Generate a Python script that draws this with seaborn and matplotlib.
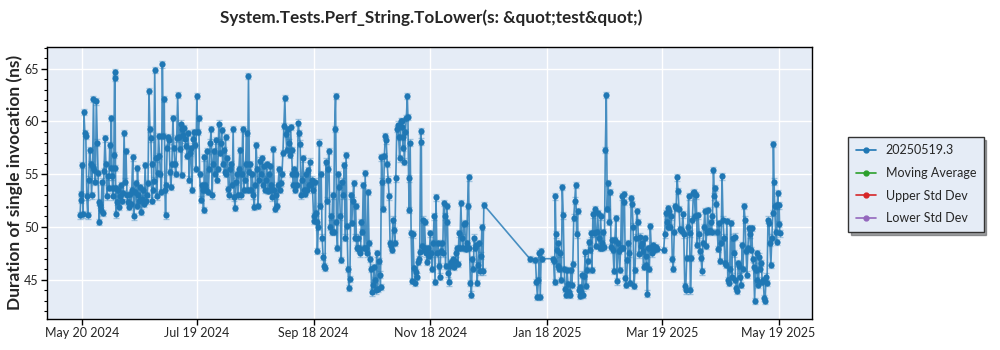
import matplotlib
matplotlib.use("Agg")
import matplotlib.pyplot as plt
import matplotlib.dates as mdates
from matplotlib.lines import Line2D
from matplotlib.ticker import MultipleLocator, FixedLocator, FixedFormatter
import pandas as pd
import seaborn as sns

# ---------------- data ----------------
title = "System.Tests.Perf_String.ToLower(s: &quot;test&quot;)"
y_label = "Duration of single invocation (ns)"
legend_labels = ["20250519.3", "Moving Average", "Upper Std Dev", "Lower Std Dev"]
legend_colors = ["#1f77b4", "#2ca02c", "#d62728", "#9467bd"]
start_date = "2024-05-20"
tick_dates = ["2024-05-20", "2024-07-19", "2024-09-18", "2024-11-18",
              "2025-01-18", "2025-03-19", "2025-05-19"]
tick_labels = ["May 20 2024", "Jul 19 2024", "Sep 18 2024", "Nov 18 2024",
               "Jan 18 2025", "Mar 19 2025", "May 19 2025"]
y_ticks = [45, 50, 55, 60, 65]

# day offsets from start_date and the runs measured that day (ns)
run_day = [-1, 0, 1, 2, 3, 4, 5, 6, 7, 8, 9, 10, 11, 12, 13, 14, 15, 16, 17, 18, 19,
           20, 21, 22, 23, 24, 25, 26, 27, 28, 29, 30, 31, 32, 33, 34, 35, 36, 37, 38, 39,
           40, 41, 42, 43, 44, 45, 46, 47, 48, 49, 50, 51, 52, 53, 54, 55, 56, 57, 58, 59,
           60, 61, 62, 63, 64, 65, 66, 67, 68, 69, 70, 71, 72, 73, 74, 75, 76, 77, 78, 79,
           80, 81, 82, 83, 84, 85, 86, 87, 88, 89, 90, 91, 92, 93, 94, 95, 96, 97, 98, 99,
           100, 101, 102, 103, 104, 105, 106, 107, 108, 109, 110, 111, 112, 113, 114, 115,
           116, 117, 118, 119, 120, 121, 122, 123, 124, 125, 126, 127, 128, 129, 130, 131,
           132, 133, 134, 135, 136, 137, 138, 139, 140, 141, 142, 143, 144, 145, 146, 147,
           148, 149, 150, 151, 152, 153, 154, 155, 156, 157, 158, 159, 160, 161, 162, 163,
           164, 165, 166, 167, 168, 169, 170, 171, 172, 173, 174, 175, 176, 177, 178, 179,
           180, 181, 182, 183, 184, 185, 186, 187, 188, 189, 190, 191, 192, 193, 194, 195,
           196, 197, 198, 199, 200, 201, 202, 203, 204, 205, 206, 207, 208, 209, 210,
           234, 237, 238, 239, 240, 246, 247, 248, 249, 250, 251, 252, 253, 254, 255, 256,
           257, 258, 259, 260, 261, 262, 263, 264, 265, 266, 267, 268, 269, 270, 271, 272,
           273, 274, 275, 276, 277, 278, 279, 280, 281, 282, 283, 284, 285, 286, 287, 288,
           289, 290, 291, 292, 293, 294, 295, 296, 297, 298, 299, 300, 304, 305, 306, 307,
           308, 309, 310, 311, 312, 313, 314, 315, 316, 317, 318, 319, 320, 321, 322, 323,
           324, 325, 326, 327, 328, 329, 330, 331, 332, 333, 334, 335, 336, 337, 338, 339,
           340, 341, 342, 343, 344, 345, 346, 347, 348, 349, 350, 351, 352, 353, 354, 355,
           356, 357, 358, 359, 360, 361, 362, 363, 364]

run_ns = [
    [51.1, 52.6, 53.1], [55.9, 51.2], [60.9, 58.9], [58.6, 52.9], [51.1, 54.5],
    [57.3, 56.0], [53.0, 55.7], [62.1, 55.4], [54.3, 61.9], [58.0, 55.1, 52.4],
    [50.5, 52.1], [51.6, 54.3], [51.3, 55.3], [58.4, 56.0], [52.9, 54.8],
    [53.7, 57.8], [55.6, 60.3, 54.8], [53.7, 52.9, 56.8], [64.65, 64.1, 55.6, 51.2], [53.7, 52.4],
    [53.5, 51.9], [52.9, 54.0], [52.5, 53.2], [58.9, 54.3], [57.2, 53.0],
    [52.4, 51.9], [53.1, 52.2], [53.5, 56.6], [51.0, 53.3], [54.2, 52.0],
    [55.6, 53.0], [52.5, 53.8], [51.4, 52.7], [53.5, 52.2], [55.9, 52.5],
    [53.0, 54.2], [62.9, 59.3], [58.4, 56.0, 52.5], [53.5, 54.4], [64.9, 56.5],
    [52.9, 55.1], [58.6, 56.7], [55.0, 53.3], [65.4, 58.6], [62.1, 53.5, 51.1],
    [54.0, 57.5], [58.5, 58.2], [55.2, 53.8], [56.0, 60.3], [57.5, 56.0],
    [55.0, 58.4], [62.5, 58.5], [57.4, 59.8], [54.9, 59.3], [58.7, 59.4],
    [58.3, 57.7], [56.7, 58.9], [54.5, 57.0], [57.5, 53.5], [58.3, 59.0],
    [57.8, 55.5], [62.4, 59.0], [60.3, 55.0], [52.6, 54.0], [53.5, 51.6],
    [56.6, 54.0], [53.5, 57.2], [53.3, 55.5], [58.0, 59.3], [53.0, 56.0],
    [57.2, 55.0], [58.2, 54.5], [55.5, 59.8], [57.0, 58.0], [59.2, 56.0],
    [57.3, 55.2], [58.5, 55.0], [56.5, 53.6], [53.0, 55.5], [56.0, 54.0],
    [59.3, 52.8], [51.8, 54.3], [55.0, 53.0], [55.5, 57.3], [53.0, 55.0],
    [59.3, 53.5], [54.5, 56.0], [58.9, 53.5], [64.3, 55.2], [56.0, 53.5],
    [55.0, 53.0], [51.9, 54.0], [57.8, 55.5], [52.0, 54.5], [56.3, 55.0],
    [56.5, 54.0], [55.8, 53.5], [54.5, 56.0], [53.4, 55.0], [53.5, 55.8],
    [54.0, 52.8], [57.4, 53.5], [51.7, 53.0], [52.0, 54.0], [55.5, 53.5],
    [54.2, 55.0], [57.0, 59.6], [62.2, 58.8], [57.3, 59.3], [58.0, 56.8],
    [59.5, 57.3], [55.0, 54.0], [55.5, 53.5], [55.0, 54.0], [59.9, 58.9],
    [57.9, 53.0], [54.5, 56.5], [53.5, 53.1], [55.0, 53.5], [55.4, 54.0],
    [56.2, 54.0], [54.5, 53.5], [51.0, 50.6], [54.3, 51.3, 50.5], [47.7, 50.0],
    [58.0, 52.0], [55.0, 49.0], [47.2, 46.3], [46.1, 56.2], [52.5, 55.5],
    [57.2, 50.0], [51.0, 49.5], [53.0, 49.5], [59.3, 62.4], [50.5, 48.0],
    [55.0, 53.8], [51.0, 46.9], [54.3, 53.0], [55.9, 49.0], [56.85, 50.1],
    [46.0, 44.2], [45.1, 53.0], [50.4, 52.5], [54.2, 49.0], [52.0, 48.0],
    [49.0, 47.8], [48.0, 47.5], [50.5, 49.5], [54.0, 48.0], [55.1, 48.0],
    [47.5, 53.3], [48.5, 47.0], [46.0, 43.8], [44.5, 46.2], [45.0, 44.0],
    [47.5, 44.1], [46.8, 45.5], [44.3, 56.6], [54.3, 51.7], [56.7, 58.6],
    [58.2, 56.0], [54.5, 52.9], [48.5, 48.2], [47.8, 50.7], [49.7, 48.5],
    [54.6, 59.3], [59.7, 58.5], [56.5, 60.0], [59.5, 60.0, 57.5], [58.5, 56.2],
    [59.0, 60.3], [62.4, 60.4, 54.6], [51.6, 58.0], [49.4, 44.9], [49.3, 46.1],
    [44.7, 45.7], [45.3, 46.7], [47.0, 47.6], [59.1, 58.1, 48.2], [50.7, 47.8],
    [50.5, 48.0], [47.5, 46.7], [48.0, 47.3], [49.4, 47.5], [46.0, 48.5],
    [51.0, 44.8], [52.8, 47.5], [48.5, 46.3], [45.3, 47.7], [48.5, 47.5],
    [52.3, 51.0], [46.3, 52.0], [50.5, 45.6], [44.75, 46.3], [46.7, 46.4],
    [47.0, 46.2], [46.8, 47.5], [48.0, 46.5], [49.4, 48.0], [52.3, 49.0],
    [48.0, 50.3], [50.4, 47.9], [48.5, 52.0], [54.7, 48.0], [44.7, 43.6],
    [47.0, 46.0], [49.0, 48.0], [48.3, 44.7], [46.4, 48.5], [45.8, 47.3],
    [50.0, 45.8], [52.1],
    [47.0], [46.9, 44.8], [43.4, 45.0], [47.5, 43.4], [47.75, 47.0],
    [47.0, 46.8], [44.8, 52.9, 49.3], [47.8, 46.3], [48.5, 46.0], [47.5, 45.0],
    [53.8, 51.1], [46.0, 44.1], [43.6, 45.9], [44.6, 43.8], [43.6, 45.9],
    [44.5, 46.5], [50.9, 52.5], [54.0, 49.3], [51.5, 44.0], [43.5, 44.3],
    [43.8, 45.5], [43.6, 45.4], [47.6, 44.4], [45.9, 46.8], [48.6, 47.8],
    [49.4, 45.9], [51.2, 49.4], [51.7, 48.2], [49.5, 51.3], [49.0, 48.0],
    [51.0, 48.5], [48.0, 49.5], [48.1, 57.3], [62.5, 51.7], [54.2, 50.5],
    [53.3, 48.1], [48.8, 47.8], [45.85, 48.8], [50.85, 44.85], [48.5, 47.7],
    [45.95, 48.0], [52.9, 48.0], [53.15, 52.4], [45.2, 44.5], [46.9, 48.5],
    [47.5, 44.7], [52.75, 52.2], [50.05, 44.4], [45.95, 49.0], [51.5, 50.45],
    [47.4, 49.1], [48.2, 48.5], [47.7, 46.2], [48.95, 47.3], [46.4, 43.7],
    [48.0, 46.0], [50.1, 48.0], [47.5, 48.3], [47.8], [48.1, 47.9],
    [47.8, 49.3], [51.3, 50.5], [51.8, 50.0], [51.5, 50.0], [51.0, 46.95],
    [46.0, 49.5], [52.0, 51.8], [54.7, 53.4], [51.7, 49.8], [49.7, 49.6],
    [51.2, 49.3], [44.4, 44.0], [47.05, 50.0], [52.9, 49.4], [44.0, 47.05],
    [50.7, 53.2], [53.3, 51.0], [53.0, 48.3], [51.1, 49.3], [47.7, 47.05],
    [45.8, 48.5], [50.0, 51.5], [48.2, 49.5], [51.6, 49.6], [49.6, 50.5],
    [49.5, 51.0], [55.4, 52.9], [53.7, 52.2], [49.5, 47.9], [50.4, 46.8],
    [48.5, 54.8], [50.7, 49.0], [46.6, 46.4], [50.6, 45.0], [44.7, 46.0],
    [50.4, 45.3], [49.0, 47.5], [49.1, 45.0], [44.2, 43.95], [46.6, 46.3],
    [45.3, 44.5], [48.3, 46.0], [52.0, 50.7], [47.7, 45.5], [48.0, 49.9],
    [49.3, 47.8], [49.9, 47.0], [46.25, 43.0], [45.95, 47.5], [45.0, 44.5],
    [47.2, 46.0], [46.6, 44.8], [45.0, 43.3], [43.0, 45.3], [44.7, 50.7],
    [50.4, 48.5], [46.4, 49.0], [51.3, 57.85, 54.3], [52.0, 49.5], [48.6, 52.05, 53.2],
    [50.3, 52.05, 49.4],
]
run_err_ns = 0.3  # typical std-error bar half-height

# ---------------- build table ----------------
rows = []
base = pd.Timestamp(start_date)
for d, vals in zip(run_day, run_ns):
    n = len(vals)
    for i, v in enumerate(vals):
        rows.append((base + pd.Timedelta(days=d + i / n), v))
df = pd.DataFrame(rows, columns=["time", "ns"])

# ---------------- style ----------------
sns.set_style("darkgrid", {"axes.facecolor": "#e5ecf6", "grid.color": "white",
                           "axes.edgecolor": "black"})
plt.rcParams["font.family"] = ["Lato", "DejaVu Sans"]

fig = plt.figure(figsize=(10, 3.5), dpi=100)
fig.patch.set_facecolor("white")
ax = fig.add_axes([0.047, 0.089, 0.765, 0.778])

blue = legend_colors[0]
ax.errorbar(df["time"], df["ns"], yerr=run_err_ns, fmt="none", ecolor=blue,
            elinewidth=0.8, capsize=2.0, alpha=0.35, zorder=2)
sns.lineplot(data=df, x="time", y="ns", ax=ax, estimator=None, sort=False,
             color=blue, linewidth=1.2, alpha=0.8, legend=False, zorder=3)
sns.scatterplot(data=df, x="time", y="ns", ax=ax, color=blue, s=20,
                linewidth=0, legend=False, zorder=4)

# axes
ax.set_xlim(pd.Timestamp("2024-05-01 17:00"), pd.Timestamp("2025-06-05 12:00"))
ax.set_ylim(41.3, 67.1)
ax.xaxis.set_major_locator(FixedLocator(mdates.date2num(pd.to_datetime(tick_dates))))
ax.xaxis.set_major_formatter(FixedFormatter(tick_labels))
ax.set_yticks(y_ticks)
ax.yaxis.set_minor_locator(MultipleLocator(1))
ax.grid(True, which="major", color="white", linewidth=1)
ax.grid(False, which="minor")
ax.tick_params(axis="both", which="major", labelsize=9, length=4, width=1,
               color="black", left=True, bottom=True, pad=2)
ax.tick_params(axis="y", which="minor", length=2, width=0.8, color="black", left=True)
ax.tick_params(axis="x", which="minor", bottom=False)
for sp in ax.spines.values():
    sp.set_visible(True)
    sp.set_color("black")
    sp.set_linewidth(1)
ax.set_xlabel("")
ax.set_ylabel(y_label, fontsize=12.5, fontweight="bold", labelpad=1)

fig.text(0.431, 0.948, title, ha="center", va="center", fontsize=12.3, fontweight="bold")

handles = [Line2D([0], [0], color=c, marker="o", markersize=3.5, linewidth=1.2)
           for c in legend_colors]
leg = fig.legend(handles, legend_labels, loc="upper left",
                 bbox_to_anchor=(0.848, 0.609), bbox_transform=fig.transFigure,
                 borderaxespad=0, fontsize=9, frameon=True, fancybox=False,
                 shadow=True, framealpha=1, edgecolor="#333333", handlelength=1.6,
                 labelspacing=0.85, borderpad=0.6)
leg.get_frame().set_linewidth(1)

fig.savefig("out.png", dpi=100, facecolor="white")
